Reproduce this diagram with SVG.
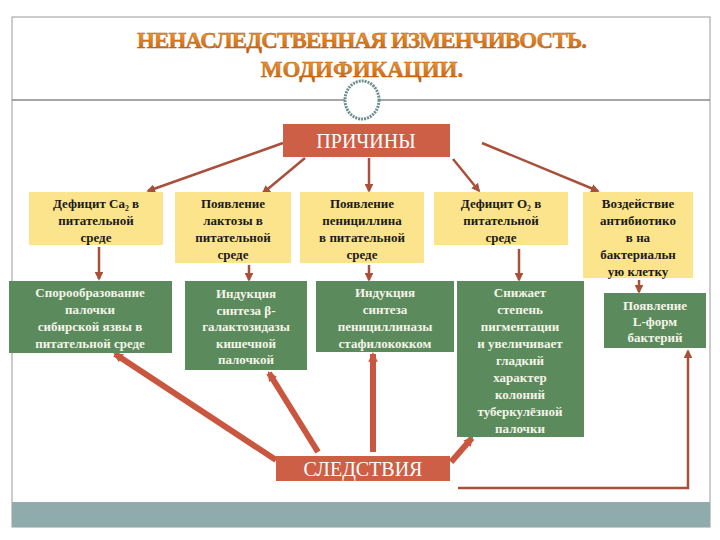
<svg xmlns="http://www.w3.org/2000/svg" width="720" height="540" viewBox="0 0 720 540">
<defs>
<linearGradient id="tg" x1="0" y1="0" x2="0" y2="1"><stop offset="0" stop-color="#f7a23a"/><stop offset="1" stop-color="#c25a0a"/></linearGradient>
<marker id="a" viewBox="0 0 10 10" refX="8" refY="5" markerWidth="3.5" markerHeight="3.5" orient="auto"><path d="M0,0L10,5L0,10z" fill="#a8503a"/></marker>
<marker id="b" viewBox="0 0 10 10" refX="8" refY="5" markerWidth="1.6" markerHeight="1.6" orient="auto"><path d="M0,0L10,5L0,10z" fill="#c9563e"/></marker>
<style>
.y{fill:#fce48c}.g{fill:#5b8a5c}.r{fill:#cd5f47}
.ty{font-family:"Liberation Serif","DejaVu Serif","Times New Roman",serif;font-size:13px;font-weight:bold;fill:#1a1a1a;text-anchor:middle}
.tg{font-family:"Liberation Serif","DejaVu Serif","Times New Roman",serif;font-size:13px;font-weight:bold;fill:#f4f4e8;text-anchor:middle}
.th{font-family:"Liberation Serif","DejaVu Serif","Times New Roman",serif;font-size:20px;fill:#fff;text-anchor:middle}
.tt{font-family:"Liberation Serif","DejaVu Serif","Times New Roman",serif;font-weight:bold;font-size:23px;fill:url(#tg);stroke:#b05a10;stroke-width:0.4;text-anchor:middle}
.c{stroke:#a8503a;stroke-width:2.5;fill:none;marker-end:url(#a)}
.k{stroke:#c9563e;stroke-width:6;fill:none;marker-end:url(#b)}
</style>
</defs>
<rect width="720" height="540" fill="#fff"/>
<rect x="12" y="17" width="698" height="510" fill="none" stroke="#999"/>
<line x1="12" y1="100" x2="710" y2="100" stroke="#888" stroke-width="1.5"/>
<ellipse cx="362" cy="100" rx="17" ry="19" fill="#fff" stroke="#6e8e8e" stroke-width="3" stroke-dasharray="2 1"/>
<rect x="12" y="502" width="698" height="25" fill="#8fabab"/>
<g id="title">
<text class="tt" x="362" y="48" textLength="450">НЕНАСЛЕДСТВЕННАЯ  ИЗМЕНЧИВОСТЬ.</text>
<text class="tt" x="362" y="77">МОДИФИКАЦИИ.</text>
</g>
<g id="connectors">
<line class="c" x1="283" y1="143" x2="148" y2="191"/>
<line class="c" x1="305" y1="158" x2="263" y2="193"/>
<line class="c" x1="369" y1="158" x2="369" y2="191"/>
<line class="c" x1="453" y1="159" x2="479" y2="191"/>
<line class="c" x1="482" y1="143" x2="598" y2="191"/>
<line class="c" x1="99" y1="247" x2="99" y2="279"/>
<line class="c" x1="249" y1="265" x2="249" y2="280"/>
<line class="c" x1="369" y1="265" x2="369" y2="280"/>
<line class="c" x1="519" y1="249" x2="519" y2="280"/>
<line class="c" x1="639" y1="280" x2="639" y2="292"/>
<line class="k" x1="276" y1="460" x2="115" y2="354"/>
<line class="k" x1="318" y1="452" x2="269" y2="373"/>
<line class="k" x1="373" y1="452" x2="373" y2="354"/>
<line class="k" x1="451" y1="462" x2="472" y2="438"/>
<path class="c" d="M458,488H688V351"/>
</g>
<g id="prichiny"><rect class="r" x="283" y="124" width="167" height="33"/><text class="th" x="366" y="148">ПРИЧИНЫ</text></g>
<g id="y1"><rect class="y" x="29" y="192" width="134" height="53"/><text class="ty" x="96" y="208">Дефицит Са₂ в<tspan x="96" dy="17">питательной</tspan><tspan x="96" dy="17">среде</tspan></text></g>
<g id="y2"><rect class="y" x="175" y="192" width="116" height="71"/><text class="ty" x="233" y="208">Появление<tspan x="233" dy="17">лактозы в</tspan><tspan x="233" dy="17">питательной</tspan><tspan x="233" dy="17">среде</tspan></text></g>
<g id="y3"><rect class="y" x="300" y="192" width="124" height="71"/><text class="ty" x="362" y="208">Появление<tspan x="362" dy="17">пенициллина</tspan><tspan x="362" dy="17">в питательной</tspan><tspan x="362" dy="17">среде</tspan></text></g>
<g id="y4"><rect class="y" x="434" y="192" width="134" height="53"/><text class="ty" x="501" y="208">Дефицит О₂ в<tspan x="501" dy="17">питательной</tspan><tspan x="501" dy="17">среде</tspan></text></g>
<g id="y5"><rect class="y" x="583" y="192" width="110" height="86"/><text class="ty" x="638" y="208">Воздействие<tspan x="638" dy="17">антибиотико</tspan><tspan x="638" dy="17">в на</tspan><tspan x="638" dy="17">бактериальн</tspan><tspan x="638" dy="17">ую клетку</tspan></text></g>
<g id="g1"><rect class="g" x="9" y="281" width="163" height="72"/><text class="tg" x="90" y="297">Спорообразование<tspan x="90" dy="17">палочки</tspan><tspan x="90" dy="17">сибирской язвы в</tspan><tspan x="90" dy="17">питательной среде</tspan></text></g>
<g id="g2"><rect class="g" x="185" y="281" width="122" height="89"/><text class="tg" x="246" y="298">Индукция<tspan x="246" dy="16.5">синтеза β-</tspan><tspan x="246" dy="16.5">галактозидазы</tspan><tspan x="246" dy="16.5">кишечной</tspan><tspan x="246" dy="16.5">палочкой</tspan></text></g>
<g id="g3"><rect class="g" x="316" y="281" width="138" height="71"/><text class="tg" x="385" y="297">Индукция<tspan x="385" dy="17">синтеза</tspan><tspan x="385" dy="17">пенициллиназы</tspan><tspan x="385" dy="17">стафилококком</tspan></text></g>
<g id="g4"><rect class="g" x="457" y="281" width="127" height="156"/><text class="tg" x="520" y="297">Снижает<tspan x="520" dy="17">степень</tspan><tspan x="520" dy="17">пигментации</tspan><tspan x="520" dy="17">и увеличивает</tspan><tspan x="520" dy="17">гладкий</tspan><tspan x="520" dy="17">характер</tspan><tspan x="520" dy="17">колоний</tspan><tspan x="520" dy="17">туберкулёзной</tspan><tspan x="520" dy="17">палочки</tspan></text></g>
<g id="g5"><rect class="g" x="604" y="293" width="102" height="55"/><text class="tg" x="655" y="310">Появление<tspan x="655" dy="16">L-форм</tspan><tspan x="655" dy="16">бактерий</tspan></text></g>
<g id="sledstviya"><rect class="r" x="276" y="456" width="174" height="25"/><text class="th" x="363" y="476" font-size="17">СЛЕДСТВИЯ</text></g>
</svg>
